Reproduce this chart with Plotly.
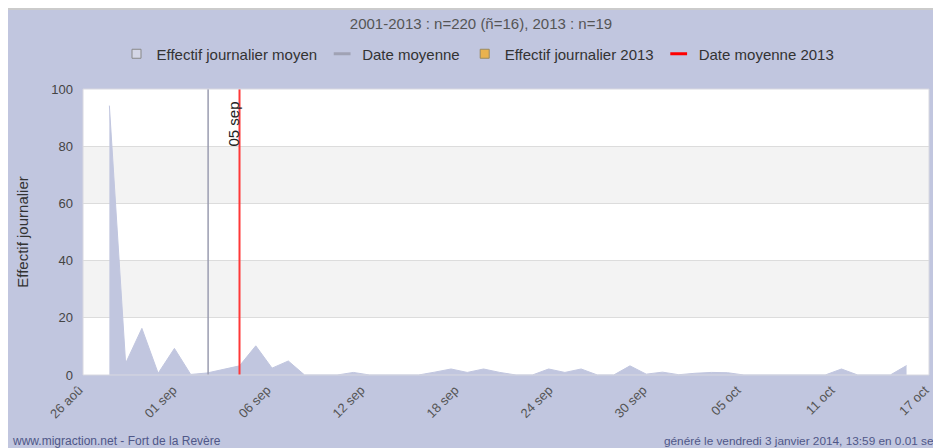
import numpy as np
import plotly.graph_objects as go

# ---- data ----
# day index: 0 = first day with data (28 aoû 2013)
day_index = list(range(50))
mean_daily = [94.2, 4.1, 16.3, 0.6, 9.3, 0.2, 0.7, 1.9, 3.2, 10.2,
              2.4, 4.9, 0.0, 0.0, 0.0, 0.9, 0.0, 0.0, 0.0, 0.0,
              1.0, 2.1, 0.9, 2.1, 0.9, 0.0, 0.0, 2.1, 0.9, 2.1,
              0.0, 0.0, 3.2, 0.3, 1.0, 0.1, 0.6, 0.9, 0.8, 0.0,
              0.0, 0.0, 0.0, 0.0, 0.0, 2.1, 0.0, 0.0, 0.0, 3.3]
mean_date = 6.07          # Date moyenne (all years)
mean_date_2013 = 8.0      # Date moyenne 2013
mean_date_2013_label = "05 sep"
tick_labels = ["26 aoû", "01 sep", "06 sep", "12 sep", "18 sep",
               "24 sep", "30 sep", "05 oct", "11 oct", "17 oct"]
y_ticks = [0, 20, 40, 60, 80, 100]
legend_names = ["Effectif journalier moyen", "Date moyenne",
                "Effectif journalier 2013", "Date moyenne 2013"]
title_text = "2001-2013 : n=220 (ñ=16), 2013 : n=19"
footer_left = "www.migraction.net - Fort de la Revère"
footer_right = "généré le vendredi 3 janvier 2014, 13:59 en 0.01 sec"

# ---- layout geometry (figure pixels; page is offset by 8px body margin) ----
OFF = 8
W, H = 941 - OFF, 448 - OFF
L, R, T, B = 83 - OFF, 929 - OFF, 89 - OFF, 375 - OFF
x_min = -1.62
x_max = x_min + 52
tick_vals = list(np.linspace(x_min, x_max, len(tick_labels)))

LAV = "#c1c6df"
FONT = "Liberation Sans, Arial, sans-serif"

def px_x(p):
    return (p - OFF - L) / (R - L)

def px_y(p):
    return (B - (p - OFF)) / (B - T)

fig = go.Figure()

fig.add_trace(go.Scatter(
    x=day_index, y=mean_daily, mode="lines", fill="tozeroy",
    fillcolor=LAV, line=dict(color=LAV, width=1), showlegend=False,
    hoverinfo="skip"))

fig.add_trace(go.Scatter(
    x=[mean_date, mean_date], y=[0, 100], mode="lines",
    line=dict(color="#9a9cb0", width=1.5), showlegend=False))
fig.add_trace(go.Scatter(
    x=[mean_date_2013, mean_date_2013], y=[0, 100], mode="lines",
    line=dict(color="#ff3838", width=2), showlegend=False))

# legend entries
fig.add_trace(go.Scatter(x=[None], y=[None], mode="markers", name=legend_names[0],
                         marker=dict(symbol="square", size=9, color="#d4d6e6",
                                     line=dict(color="#888888", width=1))))
fig.add_trace(go.Scatter(x=[None], y=[None], mode="markers", name=legend_names[1],
                         marker=dict(symbol="line-ew", size=12,
                                     line=dict(color="#a0a2b4", width=3))))
fig.add_trace(go.Scatter(x=[None], y=[None], mode="markers", name=legend_names[2],
                         marker=dict(symbol="square", size=9, color="#e9b24e",
                                     line=dict(color="#9a8a60", width=1))))
fig.add_trace(go.Scatter(x=[None], y=[None], mode="markers", name=legend_names[3],
                         marker=dict(symbol="line-ew", size=12,
                                     line=dict(color="#ff0000", width=3))))

shapes = [
    # thin grey strip at the very top
    dict(type="rect", xref="paper", yref="paper", x0=px_x(0), x1=px_x(960),
         y0=px_y(10), y1=px_y(7), fillcolor="#cbcbcb", line=dict(width=0), layer="below"),
    # alternating bands
    dict(type="rect", xref="paper", yref="y", x0=0, x1=1, y0=20, y1=40,
         fillcolor="#f3f3f3", line=dict(width=0), layer="below"),
    dict(type="rect", xref="paper", yref="y", x0=0, x1=1, y0=60, y1=80,
         fillcolor="#f3f3f3", line=dict(width=0), layer="below"),
    # plot border
    dict(type="rect", xref="paper", yref="paper", x0=0, x1=1, y0=0, y1=1,
         line=dict(color="#d8d8e0", width=1), layer="above"),
]

annotations = [
    dict(x=mean_date_2013, y=100, xref="x", yref="y", text=mean_date_2013_label,
         textangle=-90, showarrow=False, xanchor="right", yanchor="top",
         xshift=4, yshift=-11, font=dict(family=FONT, size=15, color="#222222")),
    dict(x=px_x(10), y=px_y(441), xref="paper", yref="paper", text=footer_left,
         showarrow=False, xanchor="left", yanchor="middle",
         font=dict(family=FONT, size=12, color="#4f5788")),
    dict(x=px_x(662), y=px_y(441), xref="paper", yref="paper", text=footer_right,
         showarrow=False, xanchor="left", yanchor="middle",
         font=dict(family=FONT, size=11.8, color="#4f5788")),
]

fig.update_layout(
    width=W, height=H,
    margin=dict(l=L, r=W - R, t=T, b=H - B, pad=0, autoexpand=False),
    paper_bgcolor=LAV, plot_bgcolor="white",
    font=dict(family=FONT, size=12, color="#444444"),
    title=dict(text=title_text, x=px_x(481), xref="paper", xanchor="center",
               y=1 - (24 - OFF) / H, yref="container", yanchor="middle",
               font=dict(family=FONT, size=15, color="#555555")),
    legend=dict(orientation="h", x=px_x(478), xanchor="center",
                y=px_y(54), yanchor="middle", bgcolor="rgba(0,0,0,0)",
                font=dict(family=FONT, size=15, color="#333333"),
                itemwidth=30),
    xaxis=dict(range=[x_min, x_max], tickvals=tick_vals, ticktext=tick_labels,
               tickangle=-45, showgrid=False, zeroline=False, showline=False,
               ticks="", ticklabelstandoff=4, ticklabelshift=-4,
               tickfont=dict(family=FONT, size=13, color="#555555"),
               fixedrange=True, automargin=False),
    yaxis=dict(range=[0, 100], tickvals=y_ticks, showgrid=True,
               gridcolor="#dcdcdc", gridwidth=1, zeroline=False, showline=False,
               ticks="", ticklabelstandoff=9,
               tickfont=dict(family=FONT, size=13, color="#444444"),
               title=dict(text="Effectif journalier", standoff=19,
                          font=dict(family=FONT, size=15, color="#333333")),
               fixedrange=True, automargin=False),
    shapes=shapes, annotations=annotations,
)

fig.write_html("out.html")
